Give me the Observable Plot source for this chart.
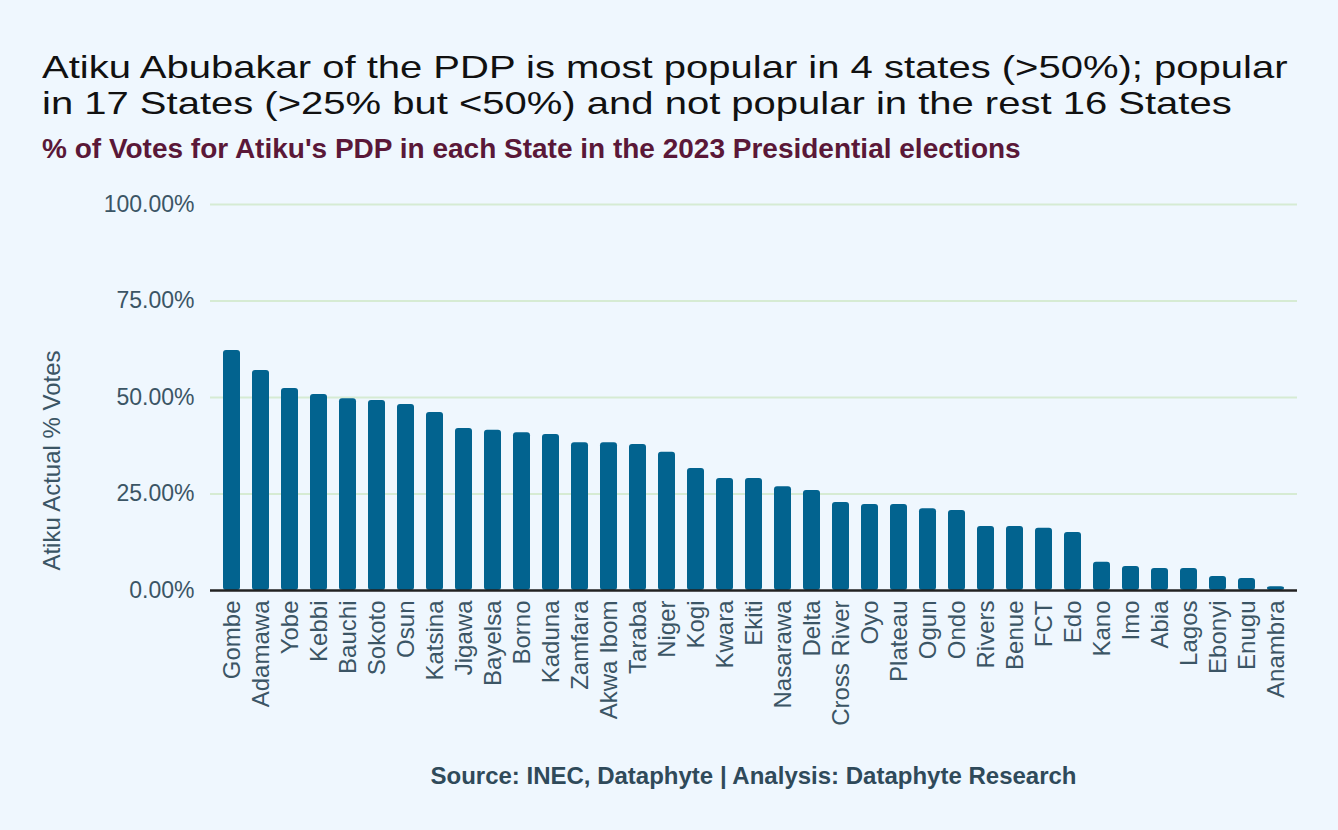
<!DOCTYPE html>
<html>
<head>
<meta charset="utf-8">
<script src="https://cdn.jsdelivr.net/npm/d3@7"></script>
<script src="https://cdn.jsdelivr.net/npm/@observablehq/plot@0.6"></script>
<style>
  html, body { margin: 0; padding: 0; background: #eff7fe; }
  body { width: 1338px; height: 830px; position: relative; overflow: hidden; font-family: "Liberation Sans", Arial, sans-serif; }
  #title { position: absolute; left: 42px; top: 49px; font-size: 32px; line-height: 36px; color: #111; white-space: nowrap; transform: scaleX(1.25); transform-origin: 0 0; }
  #subtitle { position: absolute; left: 42px; top: 135px; font-size: 28px; line-height: 28px; font-weight: bold; color: #5a1838; white-space: nowrap; }
  #chart { position: absolute; left: 0; top: 175px; }
  #caption { position: absolute; left: 210px; width: 1087px; top: 764px; text-align: center; font-size: 24px; line-height: 24px; font-weight: bold; color: #2f4a5a; white-space: nowrap; }
</style>
</head>
<body>
<div id="title">Atiku Abubakar of the PDP is most popular in 4 states (&gt;50%); popular<br>in 17 States (&gt;25% but &lt;50%) and not popular in the rest 16 States</div>
<div id="subtitle">% of Votes for Atiku's PDP in each State in the 2023 Presidential elections</div>
<div id="chart"></div>
<div id="caption">Source: INEC, Dataphyte | Analysis: Dataphyte Research</div>
<script>
const states = ["Gombe","Adamawa","Yobe","Kebbi","Bauchi","Sokoto","Osun","Katsina","Jigawa","Bayelsa","Borno","Kaduna","Zamfara","Akwa Ibom","Taraba","Niger","Kogi","Kwara","Ekiti","Nasarawa","Delta","Cross River","Oyo","Plateau","Ogun","Ondo","Rivers","Benue","FCT","Edo","Kano","Imo","Abia","Lagos","Ebonyi","Enugu","Anambra"];
const pdpShare = [62.2,57.0,52.3,50.8,49.7,49.2,48.2,46.1,42.0,41.5,40.9,40.4,38.3,38.3,37.8,35.8,31.6,29.0,29.0,26.9,25.9,22.8,22.3,22.3,21.2,20.7,16.6,16.6,16.1,15.0,7.3,6.2,5.7,5.7,3.6,3.1,1.0];
const yTicks = [0,25,50,75,100];
const yLabel = "Atiku Actual % Votes";

const data = states.map((s, i) => ({state: s, value: pdpShare[i]}));

const chart = Plot.plot({
  width: 1338,
  height: 570,
  marginLeft: 210,
  marginRight: 41,
  marginTop: 29,
  marginBottom: 155,
  style: {background: "transparent", fontFamily: "'Liberation Sans', Arial, sans-serif", fontSize: "23px", color: "#3b5565", overflow: "visible"},
  x: {domain: states, padding: 0.4},
  y: {domain: [0, 100]},
  marks: [
    Plot.gridY(yTicks.slice(1), {stroke: "#d6ebd3", strokeOpacity: 1, strokeWidth: 2}),
    Plot.barY(data, {x: "state", y: "value", fill: "#02638f", rx: 3, ry: 3}),
    Plot.ruleY([0], {stroke: "#222", strokeWidth: 2.5}),
    Plot.axisX({tickRotate: -90, tickSize: 0, tickPadding: 10, label: null, fontSize: 24}),
    Plot.axisY({ticks: yTicks, tickFormat: d => d.toFixed(2) + "%", tickSize: 0, tickPadding: 16, label: null, fontSize: 23}),
    Plot.text([yLabel], {text: d => d, frameAnchor: "left", rotate: -90, dx: -158, dy: 63, fontSize: 24, fill: "#3b5565", textAnchor: "middle"})
  ]
});
document.getElementById("chart").appendChild(chart);
</script>
</body>
</html>
